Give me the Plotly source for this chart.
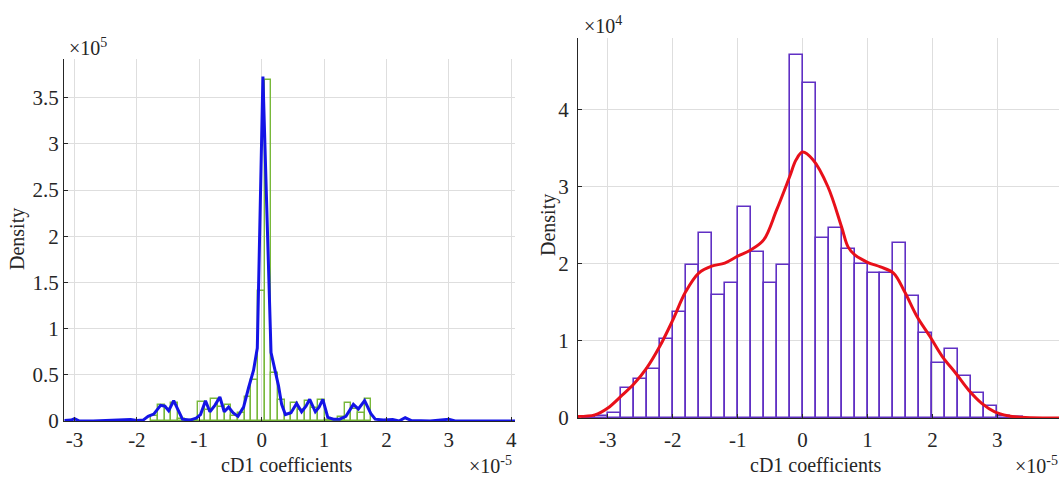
import plotly.graph_objects as go

# ---------------- data (x in units of 1e-5, density in 1e5 / 1e4) ----------------
# Left panel: histogram of cD1 coefficients (narrow bins) + density estimate
left_bin_start = -1.771
left_bin_width = 0.107
left_density = [0.05, 0.17, 0.13, 0.20, 0.02, 0.00, 0.01, 0.21, 0.12, 0.24,
                0.15, 0.17, 0.05, 0.09, 0.26, 0.44, 1.41, 3.69, 0.52, 0.23,
                0.06, 0.19, 0.12, 0.22, 0.14, 0.23, 0.01, 0.00, 0.04, 0.19,
                0.13, 0.09, 0.24]

left_kde_x = [-3.16, -3.05, -3.0, -2.92, -2.7, -2.5, -2.4, -2.3, -2.1, -2.0,
              -1.9, -1.82, -1.73, -1.62, -1.55, -1.49, -1.41, -1.34, -1.27,
              -1.15, -1.05, -0.98, -0.9, -0.83, -0.75, -0.67, -0.6, -0.53,
              -0.46, -0.38, -0.29, -0.21, -0.13, -0.07, 0.02, 0.15, 0.2, 0.27,
              0.32, 0.38, 0.47, 0.56, 0.64, 0.71, 0.77, 0.86, 0.92, 0.98,
              1.06, 1.15, 1.25, 1.35, 1.47, 1.55, 1.65, 1.75, 1.82, 1.95,
              2.1, 2.2, 2.3, 2.4, 2.7, 3.0, 3.1, 3.5, 3.9, 4.06]
left_kde_y = [0.005, 0.01, 0.025, 0.0, 0.0, 0.005, 0.015, 0.01, 0.015, 0.005,
              0.01, 0.05, 0.075, 0.17, 0.16, 0.11, 0.22, 0.12, 0.02,
              0.01, 0.03, 0.07, 0.22, 0.10, 0.17, 0.26, 0.10, 0.15,
              0.09, 0.05, 0.15, 0.36, 0.55, 0.79, 3.73, 0.74, 0.60, 0.38,
              0.18, 0.07, 0.09, 0.19, 0.10, 0.16, 0.235, 0.10, 0.15, 0.235,
              0.04, 0.02, 0.02, 0.05, 0.18, 0.13, 0.22, 0.08, 0.02, 0.01,
              0.015, 0.0, 0.035, 0.005, 0.0, 0.02, 0.0, 0.0, 0.005, 0.0]

# Right panel: histogram of cD1 coefficients (wide bins) + smooth density
right_bin_start = -3.4
right_bin_width = 0.2
right_density = [0.00, 0.02, 0.07, 0.39, 0.50, 0.63, 1.03, 1.37, 1.99, 2.40,
                 1.60, 1.75, 2.74, 2.15, 1.75, 1.99, 4.71, 4.35, 2.33, 2.46,
                 2.19, 2.00, 1.88, 1.88, 2.27, 1.58, 1.10, 0.71, 0.90, 0.55,
                 0.32, 0.16, 0.02, 0.01]

right_kde_x = [-3.46, -3.2, -3.0, -2.8, -2.6, -2.4, -2.2, -2.0, -1.8, -1.6,
               -1.4, -1.2, -1.0, -0.8, -0.6, -0.4, -0.2, -0.1, 0.0, 0.16,
               0.39, 0.6, 0.7, 0.8, 1.0, 1.2, 1.4, 1.57, 1.76, 1.96, 2.15,
               2.36, 2.56, 2.76, 2.96, 3.16, 3.37, 3.7, 3.95]
right_kde_y = [0.02, 0.04, 0.13, 0.28, 0.44, 0.65, 0.93, 1.27, 1.64, 1.88,
               1.97, 2.01, 2.10, 2.18, 2.31, 2.70, 3.13, 3.35, 3.45, 3.35,
               3.00, 2.48, 2.22, 2.12, 2.02, 1.96, 1.88, 1.64, 1.32, 1.06, 0.80,
               0.58, 0.36, 0.19, 0.08, 0.03, 0.01, 0.0, 0.0]

left_xticks = [-3, -2, -1, 0, 1, 2, 3, 4]
left_yticks = [0, 0.5, 1, 1.5, 2, 2.5, 3, 3.5]
right_xticks = [-3, -2, -1, 0, 1, 2, 3]
right_yticks = [0, 1, 2, 3, 4]

# ---------------- styling ----------------
W, H = 1059, 477
FONT = "Liberation Serif"
TXT = "#262626"
GRID = "#dedede"
GREEN = "#78b83a"
BLUE = "#1414e6"
PURPLE = "#6030c4"
RED = "#e8101a"


def fx(p):
    return p / W


def fy(p):
    return 1 - p / H


def fmt(v):
    return "%g" % v


left_centers = [left_bin_start + left_bin_width * (i + 0.5) for i in range(len(left_density))]
right_centers = [right_bin_start + right_bin_width * (i + 0.5) for i in range(len(right_density))]

fig = go.Figure()

fig.add_trace(go.Bar(
    x=left_centers, y=left_density, width=left_bin_width,
    marker=dict(color="rgba(0,0,0,0)", line=dict(color=GREEN, width=1.4)),
    xaxis="x", yaxis="y", showlegend=False))
fig.add_trace(go.Scatter(
    x=left_kde_x, y=left_kde_y, mode="lines",
    line=dict(color=BLUE, width=3), xaxis="x", yaxis="y", showlegend=False))

fig.add_trace(go.Bar(
    x=right_centers, y=right_density, width=right_bin_width,
    marker=dict(color="rgba(0,0,0,0)", line=dict(color=PURPLE, width=1.6)),
    xaxis="x2", yaxis="y2", showlegend=False))
fig.add_trace(go.Scatter(
    x=right_kde_x, y=right_kde_y, mode="lines", line_shape="spline",
    line=dict(color=RED, width=3), xaxis="x2", yaxis="y2", showlegend=False))

axis_common = dict(
    showline=True, linecolor=TXT, linewidth=1, mirror=False,
    showgrid=True, gridcolor=GRID, gridwidth=1, zeroline=False,
    ticks="inside", ticklen=4, tickcolor=TXT, automargin=False,
    tickfont=dict(family=FONT, size=21, color=TXT),
)

fig.update_layout(
    width=W, height=H,
    margin=dict(l=0, r=0, t=0, b=0, pad=0, autoexpand=False),
    paper_bgcolor="white", plot_bgcolor="white",
    bargap=0, barmode="overlay",
    xaxis=dict(domain=[fx(64), fx(515)], range=[-3.168, 4.06],
               tickvals=left_xticks, ticktext=[fmt(v) for v in left_xticks],
               anchor="y", ticklabelstandoff=0, **axis_common),
    yaxis=dict(domain=[fy(421), fy(59)], range=[0, 3.92],
               tickvals=left_yticks, ticktext=[fmt(v) for v in left_yticks],
               anchor="x", **axis_common),
    xaxis2=dict(domain=[fx(578), 1.0], range=[-3.46, 3.95],
                tickvals=right_xticks, ticktext=[fmt(v) for v in right_xticks],
                anchor="y2", ticklabelstandoff=3, **axis_common),
    yaxis2=dict(domain=[fy(418), fy(38)], range=[0, 4.93],
                tickvals=right_yticks, ticktext=[fmt(v) for v in right_yticks],
                anchor="x2", ticklabelstandoff=4, **axis_common),
)

ann_font = dict(family=FONT, size=20, color=TXT)
annotations = [
    # axis titles
    dict(text="cD1 coefficients", x=fx(286), y=fy(465)),
    dict(text="cD1 coefficients", x=fx(815), y=fy(465)),
    dict(text="Density", x=fx(18), y=fy(239), textangle=-90),
    dict(text="Density", x=fx(548), y=fy(225), textangle=-90),
    # scale factors
    dict(text="×10<sup>5</sup>", x=fx(88), y=fy(47)),
    dict(text="×10<sup>4</sup>", x=fx(603), y=fy(25)),
    dict(text="×10<sup>-5</sup>", x=fx(490), y=fy(465)),
    dict(text="×10<sup>-5</sup>", x=fx(1036), y=fy(465)),
]
for a in annotations:
    a.update(xref="paper", yref="paper", showarrow=False, font=ann_font,
             xanchor="center", yanchor="middle")
fig.update_layout(annotations=annotations)

fig.write_html("out.html")
